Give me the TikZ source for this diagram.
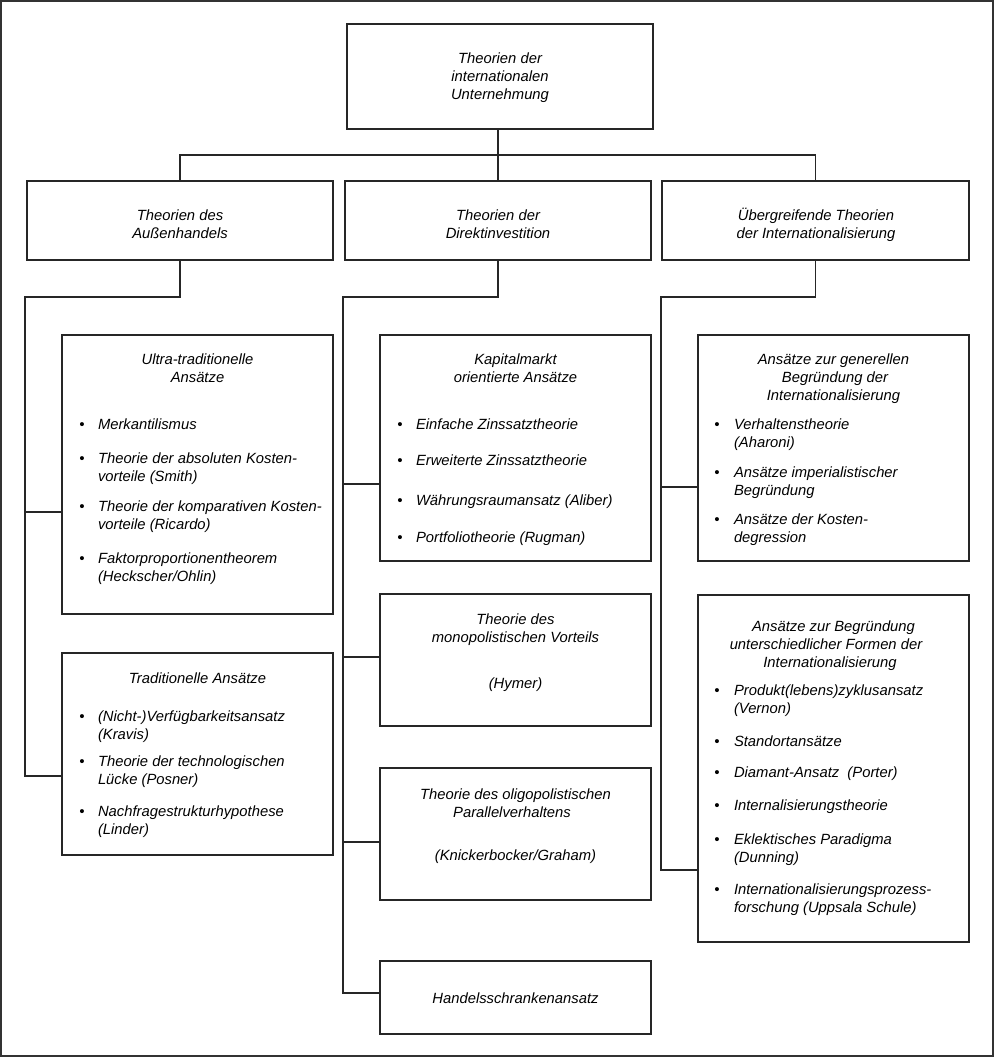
\documentclass[tikz,border=0pt]{standalone}
\usepackage{fontspec}
\setmainfont{Liberation Sans}
\begin{document}
\begin{tikzpicture}[x=1pt,y=-1pt,
  box/.style={draw=black!85, line width=1.2pt, rectangle, inner sep=0pt, outer sep=0pt, anchor=north west},
  frame/.style={draw=black!80, line width=2pt},
  conn/.style={draw=black!85, line width=1.2pt},
  txt/.style={inner sep=0pt, outer sep=0pt, font=\fontsize{14.8}{18}\selectfont\itshape, anchor=base},
  itm/.style={txt, anchor=base west},
  bul/.style={txt, anchor=base}]
\useasboundingbox (0,0) rectangle (995,1058);
\draw[frame] (1,1) rectangle (993,1056);

% boxes
\node[box, minimum width=306pt, minimum height=105pt] (top) at (347,24) {};
\node[box, minimum width=306pt, minimum height=79pt] (b1) at (27,181) {};
\node[box, minimum width=306pt, minimum height=79pt] (b2) at (345,181) {};
\node[box, minimum width=307pt, minimum height=79pt] (b3) at (662,181) {};
\node[box, minimum width=271pt, minimum height=279pt] (ultra) at (62,335) {};
\node[box, minimum width=271pt, minimum height=202pt] (trad) at (62,653) {};
\node[box, minimum width=271pt, minimum height=226pt] (kap) at (380,335) {};
\node[box, minimum width=271pt, minimum height=132pt] (mono) at (380,594) {};
\node[box, minimum width=271pt, minimum height=132pt] (oligo) at (380,768) {};
\node[box, minimum width=271pt, minimum height=73pt] (handel) at (380,961) {};
\node[box, minimum width=271pt, minimum height=226pt] (gen) at (698,335) {};
\node[box, minimum width=271pt, minimum height=347pt] (form) at (698,595) {};

% connectors top level
\coordinate (bar) at (498,155);
\draw[conn] (top.south -| b2.north) -- (b2.north);
\draw[conn] (b1.north) |- (bar) -| (b3.north);

% column 1
\coordinate (s1t) at (25,297);
\coordinate (s1u) at (25,512);
\coordinate (s1b) at (25,776);
\draw[conn] (b1.south) |- (s1t) -- (s1b) -- (s1b -| trad.west);
\draw[conn] (s1u) -- (s1u -| ultra.west);

% column 2
\coordinate (s2t) at (343,297);
\coordinate (s2k) at (343,484);
\coordinate (s2m) at (343,657);
\coordinate (s2o) at (343,842);
\coordinate (s2b) at (343,993);
\draw[conn] (b2.south) |- (s2t) -- (s2b) -- (s2b -| handel.west);
\draw[conn] (s2k) -- (s2k -| kap.west);
\draw[conn] (s2m) -- (s2m -| mono.west);
\draw[conn] (s2o) -- (s2o -| oligo.west);

% column 3
\coordinate (s3t) at (661,297);
\coordinate (s3g) at (661,487);
\coordinate (s3b) at (661,870);
\draw[conn] (b3.south) |- (s3t) -- (s3b) -- (s3b -| form.west);
\draw[conn] (s3g) -- (s3g -| gen.west);

% texts: top
\node[txt] (t1) at (500,63) {Theorien der};
\node[txt] (t2) at (500,81) {internationalen};
\node[txt] (t3) at (500,99) {Unternehmung};
\node[txt] (b1a) at (180,220) {Theorien des};
\node[txt] (b1b) at (180,238) {Außenhandels};
\node[txt] (b2a) at (498,220) {Theorien der};
\node[txt] (b2b) at (498,238) {Direktinvestition};
\node[txt] (b3a) at (816,220) {Übergreifende Theorien};
\node[txt] (b3b) at (816,238) {der Internationalisierung};

% ultra
\node[txt] (ua) at (197.5,364) {Ultra-traditionelle};
\node[txt] (ub) at (197.5,382) {Ansätze};
\node[bul] (ubu1) at (82,429) {\textbullet};
\node[itm] (ui1) at (98,429) {Merkantilismus};
\node[bul] (ubu2) at (82,463) {\textbullet};
\node[itm] (ui2a) at (98,463) {Theorie der absoluten Kosten-};
\node[itm] (ui2b) at (98,481) {vorteile (Smith)};
\node[bul] (ubu3) at (82,511) {\textbullet};
\node[itm] (ui3a) at (98,511) {Theorie der komparativen Kosten-};
\node[itm] (ui3b) at (98,529) {vorteile (Ricardo)};
\node[bul] (ubu4) at (82,563) {\textbullet};
\node[itm] (ui4a) at (98,563) {Faktorproportionentheorem};
\node[itm] (ui4b) at (98,581) {(Heckscher/Ohlin)};

% trad
\node[txt] (ta) at (197.5,683) {Traditionelle Ansätze};
\node[bul] (tbu1) at (82,721) {\textbullet};
\node[itm] (ti1a) at (98,721) {(Nicht-)Verfügbarkeitsansatz};
\node[itm] (ti1b) at (98,739) {(Kravis)};
\node[bul] (tbu2) at (82,766) {\textbullet};
\node[itm] (ti2a) at (98,766) {Theorie der technologischen};
\node[itm] (ti2b) at (98,784) {Lücke (Posner)};
\node[bul] (tbu3) at (82,816) {\textbullet};
\node[itm] (ti3a) at (98,816) {Nachfragestrukturhypothese};
\node[itm] (ti3b) at (98,834) {(Linder)};

% kapitalmarkt
\node[txt] (ka) at (515.5,364) {Kapitalmarkt};
\node[txt] (kb) at (515.5,382) {orientierte Ansätze};
\node[bul] (kbu1) at (400,429) {\textbullet};
\node[itm] (ki1) at (416,429) {Einfache Zinssatztheorie};
\node[bul] (kbu2) at (400,465) {\textbullet};
\node[itm] (ki2) at (416,465) {Erweiterte Zinssatztheorie};
\node[bul] (kbu3) at (400,505) {\textbullet};
\node[itm] (ki3) at (416,505) {Währungsraumansatz (Aliber)};
\node[bul] (kbu4) at (400,542) {\textbullet};
\node[itm] (ki4) at (416,542) {Portfoliotheorie (Rugman)};

% monopol
\node[txt] (ma) at (515.5,624) {Theorie des};
\node[txt] (mb) at (515.5,642) {monopolistischen Vorteils};
\node[txt] (mc) at (515.5,688) {(Hymer)};

% oligopol
\node[txt] (oa) at (515.5,799) {Theorie des oligopolistischen};
\node[txt] (ob) at (512,817) {Parallelverhaltens};
\node[txt] (oc) at (515.5,860) {(Knickerbocker/Graham)};

% handel
\node[txt] (ha) at (515.5,1003) {Handelsschrankenansatz};

% general
\node[txt] (ga) at (833.5,364) {Ansätze zur generellen};
\node[txt] (gb) at (835,382) {Begründung der};
\node[txt] (gc) at (833.5,400) {Internationalisierung};
\node[bul] (gbu1) at (717,429) {\textbullet};
\node[itm] (gi1a) at (734,429) {Verhaltenstheorie};
\node[itm] (gi1b) at (734,447) {(Aharoni)};
\node[bul] (gbu2) at (717,477) {\textbullet};
\node[itm] (gi2a) at (734,477) {Ansätze imperialistischer};
\node[itm] (gi2b) at (734,495) {Begründung};
\node[bul] (gbu3) at (717,524) {\textbullet};
\node[itm] (gi3a) at (734,524) {Ansätze der Kosten-};
\node[itm] (gi3b) at (734,542) {degression};

% formen
\node[txt] (fa) at (833.5,631) {Ansätze zur Begründung};
\node[txt] (fb) at (826,649) {unterschiedlicher Formen der};
\node[txt] (fc) at (830,667) {Internationalisierung};
\node[bul] (fbu1) at (717,695) {\textbullet};
\node[itm] (fi1a) at (734,695) {Produkt(lebens)zyklusansatz};
\node[itm] (fi1b) at (734,713) {(Vernon)};
\node[bul] (fbu2) at (717,746) {\textbullet};
\node[itm] (fi2) at (734,746) {Standortansätze};
\node[bul] (fbu3) at (717,777) {\textbullet};
\node[itm] (fi3) at (734,777) {Diamant-Ansatz\ \ (Porter)};
\node[bul] (fbu4) at (717,810) {\textbullet};
\node[itm] (fi4) at (734,810) {Internalisierungstheorie};
\node[bul] (fbu5) at (717,844) {\textbullet};
\node[itm] (fi5a) at (734,844) {Eklektisches Paradigma};
\node[itm] (fi5b) at (734,862) {(Dunning)};
\node[bul] (fbu6) at (717,894) {\textbullet};
\node[itm] (fi6a) at (734,894) {Internationalisierungsprozess-};
\node[itm] (fi6b) at (734,912) {forschung (Uppsala Schule)};
\end{tikzpicture}
\end{document}
